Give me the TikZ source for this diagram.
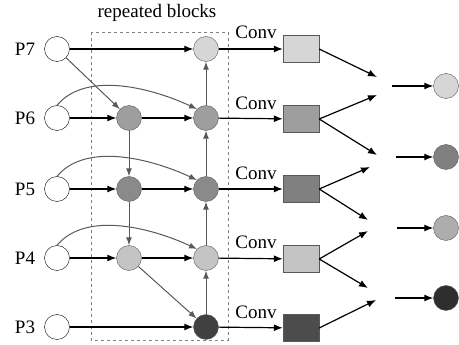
\documentclass[tikz,border=0pt]{standalone}
\usepackage{fontspec}
\setmainfont{Liberation Serif}
\usepackage{tikz}
\usetikzlibrary{arrows.meta,calc,positioning}

\definecolor{fillA}{gray}{0.84}
\definecolor{fillB}{gray}{0.62}
\definecolor{fillC}{gray}{0.54}
\definecolor{fillD}{gray}{0.77}
\definecolor{fillE}{gray}{0.25}
\definecolor{boxC}{gray}{0.50}
\definecolor{boxE}{gray}{0.30}
\definecolor{outB}{gray}{0.50}
\definecolor{outC}{gray}{0.68}
\definecolor{outD}{gray}{0.18}
\definecolor{edgegray}{gray}{0.35}

\begin{document}
\begin{tikzpicture}[x=1pt,y=-1pt,
	inp/.style={circle,draw,fill=white,minimum size=25pt,inner sep=0pt},
	blk/.style={circle,draw=edgegray,minimum size=25pt,inner sep=0pt},
	convbox/.style={rectangle,draw=edgegray,minimum width=36pt,minimum height=27pt,inner sep=0pt},
	harr/.style={-{Latex[length=9pt,width=7pt]},line width=1.2pt},
	garr/.style={-{Latex[length=8pt,width=6pt]},draw=edgegray,line width=1pt},
	lbl/.style={font=\fontsize{19}{21}\selectfont,inner sep=0pt}]
	\useasboundingbox (0,0) rectangle (459,345);

	% repeated blocks frame
	\node[lbl] (title) at (157,13) {repeated blocks};
	\draw[gray,dashed,dash pattern=on 3pt off 3pt,line width=0.7pt] (91,32) rectangle (228,340);

	% inputs
	\node[lbl] (p7) at (25,49) {P7};
	\node[lbl] (p6) at (25,118) {P6};
	\node[lbl] (p5) at (25,189) {P5};
	\node[lbl] (p4) at (25,258) {P4};
	\node[lbl] (p3) at (25,327) {P3};
	\node[inp] (i7) at (57,49) {};
	\node[inp] (i6) at (57,118) {};
	\node[inp] (i5) at (57,189) {};
	\node[inp] (i4) at (57,258) {};
	\node[inp] (i3) at (57,327) {};

	% first column
	\node[blk,fill=fillB] (m6) at (129,118) {};
	\node[blk,fill=fillC] (m5) at (129,189) {};
	\node[blk,fill=fillD] (m4) at (129,258) {};

	% second column
	\node[blk,fill=fillA] (o7) at (206,49) {};
	\node[blk,fill=fillB] (o6) at (206,118) {};
	\node[blk,fill=fillC] (o5) at (206,189) {};
	\node[blk,fill=fillD] (o4) at (206,258) {};
	\node[blk,fill=fillE] (o3) at (206,327) {};

	% conv boxes
	\node[convbox,fill=fillA] (c7) at (301,49) {};
	\node[convbox,fill=fillB] (c6) at (301,119) {};
	\node[convbox,fill=boxC] (c5) at (301,189) {};
	\node[convbox,fill=fillD] (c4) at (301,259) {};
	\node[convbox,fill=boxE] (c3) at (301,328) {};
	\node[lbl] (l7) at (256,32) {Conv};
	\node[lbl] (l6) at (256,103) {Conv};
	\node[lbl] (l5) at (256,173) {Conv};
	\node[lbl] (l4) at (256,242) {Conv};
	\node[lbl] (l3) at (256,312) {Conv};

	% outputs
	\coordinate (e1) at (377,77);
	\coordinate (e2) at (377,95);
	\coordinate (e3) at (377,155);
	\coordinate (e4) at (370,167);
	\coordinate (e5) at (368,220);
	\coordinate (e6) at (368,231);
	\coordinate (e7) at (368,288);
	\coordinate (e8) at (376,300);
	\coordinate (s1) at (392,86);
	\coordinate (s2) at (396,157);
	\coordinate (s3) at (397,228);
	\coordinate (s4) at (395,298);
	\node[blk,fill=fillA] (q1) at (446,86) {};
	\node[blk,fill=outB] (q2) at (446,157) {};
	\node[blk,fill=outC] (q3) at (446,228) {};
	\node[blk,fill=outD] (q4) at (446,298) {};

	% P7 row
	\draw[harr] (i7) -- (o7);
	\draw[garr] (i7) -- (m6);
	% P6 row
	\draw[harr] (i6) -- (m6);
	\draw[harr] (m6) -- (o6);
	\draw[garr] (i6.north) to[out=50,in=155,looseness=0.85] (o6.north west);
	\draw[garr] (m6) -- (m5);
	\draw[garr] (o6) -- (o7);
	% P5 row
	\draw[harr] (i5) -- (m5);
	\draw[harr] (m5) -- (o5);
	\draw[garr] (i5.north) to[out=50,in=155,looseness=0.85] (o5.north west);
	\draw[garr] (m5) -- (m4);
	\draw[garr] (o5) -- (o6);
	% P4 row
	\draw[harr] (i4) -- (m4);
	\draw[harr] (m4) -- (o4);
	\draw[garr] (i4.north) to[out=50,in=155,looseness=0.85] (o4.north west);
	\draw[garr] (m4) -- (o3);
	\draw[garr] (o4) -- (o5);
	% P3 row
	\draw[harr] (i3) -- (o3);
	\draw[garr] (o3) -- (o4);

	% to conv boxes
	\draw[harr] (o7) -- (c7);
	\draw[harr] (o6) -- (c6);
	\draw[harr] (o5) -- (c5);
	\draw[harr] (o4) -- (c4);
	\draw[harr] (o3) -- (c3);

	% fusion
	\draw[harr] (c7.east) -- (e1);
	\draw[harr] (c6.east) -- (e2);
	\draw[harr] (c6.east) -- (e3);
	\draw[harr] (c5.east) -- (e4);
	\draw[harr] (c5.east) -- (e5);
	\draw[harr] (c4.east) -- (e6);
	\draw[harr] (c4.east) -- (e7);
	\draw[harr] (c3.east) -- (e8);
	\draw[harr] (s1) -- (q1);
	\draw[harr] (s2) -- (q2);
	\draw[harr] (s3) -- (q3);
	\draw[harr] (s4) -- (q4);
\end{tikzpicture}
\end{document}
